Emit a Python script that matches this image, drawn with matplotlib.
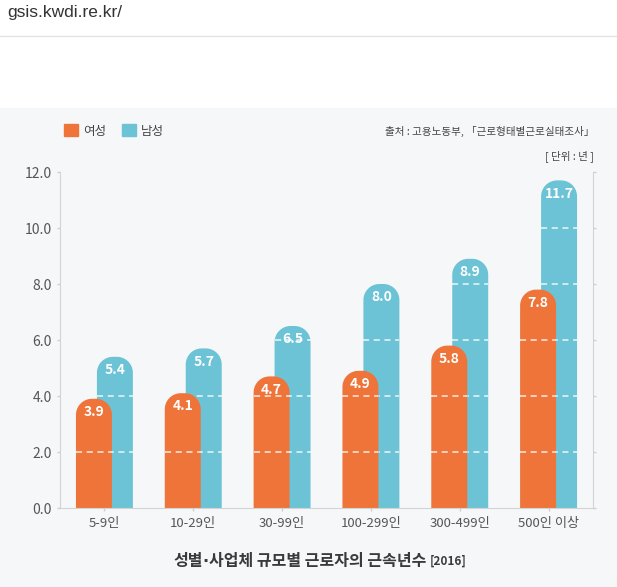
import numpy as np
import matplotlib.pyplot as plt
from matplotlib.patches import PathPatch, Rectangle, Patch
from matplotlib.path import Path
from matplotlib.lines import Line2D

plt.rcParams['font.family'] = ['Noto Sans CJK KR', 'DejaVu Sans']

# data
categories = ['5-9인', '10-29인', '30-99인', '100-299인', '300-499인', '500인 이상']
female = [3.9, 4.1, 4.7, 4.9, 5.8, 7.8]
male = [5.4, 5.7, 6.5, 8.0, 8.9, 11.7]
yticks = [0, 2, 4, 6, 8, 10, 12]
series_names = ['여성', '남성']

ORANGE = '#ee743a'
TEAL = '#6cc3d6'
BG = '#f6f7f9'
W, H = 617, 587


def rounded_bars(ax, x, values, width, color, z, grid, radius_px=16):
    bars = ax.bar(x, values, width=width, color=color, zorder=z)
    rx = radius_px * (ax.get_xlim()[1] - ax.get_xlim()[0]) / ax.bbox.width
    ry = radius_px * (ax.get_ylim()[1] - ax.get_ylim()[0]) / ax.bbox.height
    ang = np.linspace(0, np.pi / 2, 16)
    for b in bars:
        b.set_visible(False)
        x0, w, h = b.get_x(), b.get_width(), b.get_height()
        verts = [(x0, -1), (x0 + w, -1)]
        verts += [(x0 + w - rx + rx * np.cos(a), h - ry + ry * np.sin(a)) for a in ang]
        verts += [(x0 + rx - rx * np.sin(a), h - ry + ry * np.cos(a)) for a in ang]
        verts.append((x0, -1))
        ax.add_patch(PathPatch(Path(verts, closed=True), fc=color, ec='none', zorder=z))
        # white dashed grid only shows on the bars
        g = [t for t in grid if t < h - 0.2]
        if g:
            ax.hlines(g, x0, x0 + w, colors='white', linestyles=(0, (4, 3)),
                      lw=1.1, alpha=0.85, zorder=z + 0.5)
    return bars


fig = plt.figure(figsize=(W / 100, H / 100), dpi=100)

# page header + grey panel
fig.add_artist(Rectangle((0, 0), 1, (H - 108) / H, transform=fig.transFigure,
                         color=BG, zorder=-5))
fig.add_artist(Line2D([0, 1], [1 - 36 / H, 1 - 36 / H], transform=fig.transFigure,
                      color='#e3e3e3', lw=1))
fig.text(7 / W, 1 - 13 / H, 'gsis.kwdi.re.kr/', family=['Liberation Sans'],
         fontsize=12.5, va='center', color='#333333')

ax = fig.add_axes([60 / W, (H - 508) / H, 533 / W, 336 / H])
ax.set_facecolor('none')
ax.set_xlim(-0.5, len(categories) - 0.5)
ax.set_ylim(yticks[0], yticks[-1])

xs = range(len(categories))
bw = 0.405
off = 0.118
rounded_bars(ax, [i + off for i in xs], male, bw, TEAL, 1, yticks[1:-1])
rounded_bars(ax, [i - off for i in xs], female, bw, ORANGE, 2, yticks[1:-1])

for i in xs:
    for v, dx in ((female[i], -off), (male[i], off)):
        ax.annotate(f"{v:.1f}", (i + dx, v), textcoords='offset points',
                    xytext=(0, -9.5), ha='center', va='center', color='white',
                    fontsize=10, fontweight='bold', zorder=4)

ax.set_yticks(yticks)
ax.set_yticklabels([f"{t:.1f}" for t in yticks])
ax.set_xticks(list(xs))
ax.set_xticklabels(categories)
ax.tick_params(axis='y', right=True, length=2, width=1, color='#cfcfcf',
               labelcolor='#555555', labelsize=10, pad=4)
ax.tick_params(axis='x', length=2, width=1, color='#cfcfcf',
               labelcolor='#555555', labelsize=9.5, pad=4.5)
for s in ('left', 'right', 'bottom'):
    ax.spines[s].set_color('#d3d3d3')
ax.spines['top'].set_visible(False)

# legend
handles = [Patch(color=ORANGE), Patch(color=TEAL)]
fig.legend(handles, series_names, loc='center left',
           bbox_to_anchor=(53 / W, 1 - 131 / H), ncol=2, frameon=False,
           fontsize=9, handlelength=1.1, handleheight=1.1, handletextpad=0.4,
           columnspacing=1.3, labelcolor='#444444')

fig.text(594 / W, 1 - 131 / H, '출처 : 고용노동부, 「근로형태별근로실태조사」',
         ha='right', va='center', fontsize=7.6, color='#444444')
fig.text(594 / W, 1 - 156 / H, '[ 단위 : 년 ]',
         ha='right', va='center', fontsize=7.6, color='#444444')

# title, laid out piece by piece so the middle dot stays narrow
renderer = fig.canvas.get_renderer()
pieces = [
    ('성별', dict(fontsize=11.5, fontweight='bold')),
    ('·', dict(fontsize=11.5, fontweight='bold', family=['DejaVu Sans'])),
    ('사업체 규모별 근로자의 근속년수 ', dict(fontsize=11.5, fontweight='bold')),
    ('[2016]', dict(fontsize=8.5, fontweight='bold')),
]
xpos = 173
for txt, kw in pieces:
    t = fig.text(xpos / W, 1 - 561 / H, txt, ha='left', va='center',
                 color='#3a3a3a', **kw)
    xpos += t.get_window_extent(renderer).width

fig.savefig('out.png', dpi=100)
